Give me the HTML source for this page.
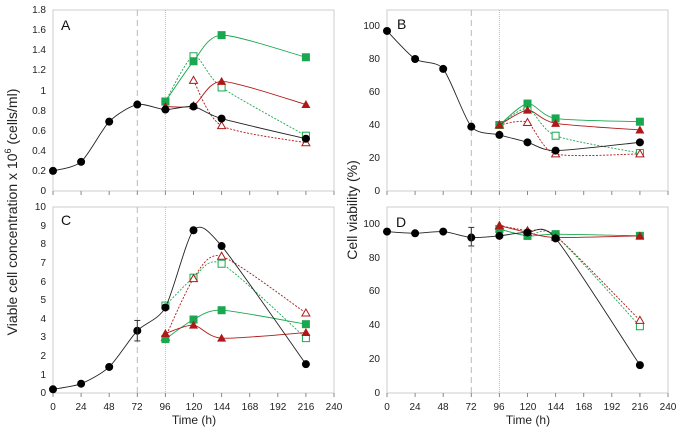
<!DOCTYPE html>
<html><head><style>body{margin:0;background:#fff}svg{display:block;font-family:"Liberation Sans",sans-serif}</style></head>
<body>
<svg id="s" width="683" height="434" viewBox="0 0 683 434">
<rect width="683" height="434" fill="#fff"/>
<g font-size="10" fill="#222" text-anchor="end">
<text x="46" y="194">0</text><text x="46" y="174">0.2</text><text x="46" y="154">0.4</text><text x="46" y="134">0.6</text><text x="46" y="114">0.8</text><text x="46" y="94">1</text><text x="46" y="73">1.2</text><text x="46" y="53">1.4</text><text x="46" y="33">1.6</text><text x="46" y="13">1.8</text>
<text x="46" y="396">0</text><text x="46" y="378">1</text><text x="46" y="359">2</text><text x="46" y="340">3</text><text x="46" y="322">4</text><text x="46" y="303">5</text><text x="46" y="285">6</text><text x="46" y="266">7</text><text x="46" y="247">8</text><text x="46" y="229">9</text><text x="46" y="210">10</text>
<text x="380" y="194">0</text><text x="380" y="161">20</text><text x="380" y="128">40</text><text x="380" y="95">60</text><text x="380" y="62">80</text><text x="380" y="29">100</text>
<text x="380" y="396">0</text><text x="380" y="362">20</text><text x="380" y="328">40</text><text x="380" y="294">60</text><text x="380" y="261">80</text><text x="380" y="227">100</text>
</g>
<g font-size="10" fill="#222" text-anchor="middle">
<text x="53" y="410">0</text><text x="81" y="410">24</text><text x="109" y="410">48</text><text x="137" y="410">72</text><text x="165" y="410">96</text><text x="194" y="410">120</text><text x="222" y="410">144</text><text x="250" y="410">168</text><text x="278" y="410">192</text><text x="306" y="410">216</text><text x="334" y="410">240</text>
<text x="387" y="410">0</text><text x="415" y="410">24</text><text x="443" y="410">48</text><text x="471" y="410">72</text><text x="499" y="410">96</text><text x="528" y="410">120</text><text x="556" y="410">144</text><text x="584" y="410">168</text><text x="612" y="410">192</text><text x="640" y="410">216</text><text x="668" y="410">240</text>
</g>
<g font-size="12" fill="#222" text-anchor="middle">
<text x="194" y="424">Time (h)</text><text x="528" y="424">Time (h)</text>
</g>
<g font-size="14" fill="#222" text-anchor="middle">
<text transform="translate(17,212) rotate(-90)">Viable cell concentration x 10<tspan font-size="9" dy="-6">6</tspan><tspan dy="6"> (cells/ml)</tspan></text>
<text transform="translate(357,210) rotate(-90)">Cell viability (%)</text>
</g>
<g font-size="14" fill="#111">
<text x="61" y="30">A</text><text x="397" y="29">B</text><text x="61" y="225">C</text><text x="396" y="227">D</text>
</g>
</svg>
<script>
const s=document.getElementById('s'),NS='http://www.w3.org/2000/svg';
function el(t,a){const e=document.createElementNS(NS,t);for(const k in a)e.setAttribute(k,a[k]);s.appendChild(e);return e}
const P={A:{x0:53,x1:334,top:10,b:191,vmax:1.8},C:{x0:53,x1:334,top:207,b:393,vmax:10},B:{x0:387,x1:668,top:10,b:191,vmax:100*181/165},D:{x0:387,x1:668,top:207,b:393,vmax:100*186/169}};
function X(p,t){return p.x0+(p.x1-p.x0)*t/240}
function Y(p,v){return p.b-(p.b-p.top)*v/p.vmax}
for(const k in P){const p=P[k];
el('rect',{x:p.x0,y:p.top,width:p.x1-p.x0,height:p.b-p.top,fill:'none',stroke:'#ccc'});
for(let t=0;t<=240;t+=24)el('line',{x1:X(p,t),x2:X(p,t),y1:p.b,y2:p.b+4,stroke:'#888'});
el('line',{x1:X(p,72),x2:X(p,72),y1:p.top,y2:p.b,stroke:'#bbb','stroke-dasharray':'6,4'});
el('line',{x1:X(p,96),x2:X(p,96),y1:p.top,y2:p.b,stroke:'#bbb','stroke-dasharray':'1,1'});}
function path(p,d,c,dash){const pts=d.map(q=>[X(p,q[0]),Y(p,q[1])]);let s='M'+pts[0];const T=8;
for(let i=0;i<pts.length-1;i++){const a=pts[i-1]||pts[i],b=pts[i],c2=pts[i+1],e=pts[i+2]||c2;
s+=`C${b[0]+(c2[0]-a[0])/T},${b[1]+(c2[1]-a[1])/T} ${c2[0]-(e[0]-b[0])/T},${c2[1]-(e[1]-b[1])/T} ${c2[0]},${c2[1]}`}
el('path',{d:s,fill:'none',stroke:c,'stroke-width':0.9,'stroke-dasharray':dash?'2,1.5':''});return pts}
function mk(pts,type){const G='#1aa74f',R='#b01818';
pts.forEach(([x,y])=>{if(type=='k')el('circle',{cx:x,cy:y,r:4,fill:'#000'});
else if(type=='gs')el('rect',{x:x-4,y:y-4,width:8,height:8,fill:G});
else if(type=='go')el('rect',{x:x-3.5,y:y-3.5,width:7,height:7,fill:'#fff',stroke:G});
else if(type=='rt')el('polygon',{points:`${x},${y-4.5} ${x+4.5},${y+3.5} ${x-4.5},${y+3.5}`,fill:R});
else el('polygon',{points:`${x},${y-4} ${x+4},${y+3} ${x-4},${y+3}`,fill:'#fff',stroke:R});})}
const G='#1aa74f',R='#b01818';
function series(k,d){const p=P[k];
mk(path(p,d.go,G,1),'go');mk(path(p,d.ro,R,1),'ro');mk(path(p,d.gs,G),'gs');mk(path(p,d.rt,R),'rt');mk(path(p,d.k,'#222'),'k');}
series('A',{k:[[0,.2],[24,.29],[48,.69],[72,.86],[96,.81],[120,.84],[144,.72],[216,.52]],
gs:[[96,.89],[120,1.29],[144,1.55],[216,1.33]],go:[[96,.89],[120,1.34],[144,1.03],[216,.55]],
rt:[[96,.84],[120,.85],[144,1.09],[216,.86]],ro:[[120,1.10],[144,.65],[216,.48]]});
series('C',{k:[[0,.2],[24,.5],[48,1.4],[72,3.35],[96,4.6],[120,8.75],[144,7.9],[216,1.55]],
go:[[96,4.7],[120,6.2],[144,6.95],[216,2.95]],ro:[[96,3.0],[120,6.15],[144,7.35],[216,4.3]],
gs:[[96,2.9],[120,3.95],[144,4.45],[216,3.7]],rt:[[96,3.2],[120,3.65],[144,2.95],[216,3.25]]});
series('B',{k:[[0,97],[24,80],[48,74],[72,39],[96,34],[120,29.5],[144,24.5],[216,29.5]],
gs:[[96,40],[120,53],[144,44],[216,42]],rt:[[96,40],[120,49],[144,41],[216,37]],
go:[[96,40],[120,50],[144,33.5],[216,23]],ro:[[96,40],[120,41.5],[144,22.5],[216,22.5]]});
series('D',{k:[[0,95.5],[24,94.5],[48,95.5],[72,92],[96,93],[120,95],[144,91.5],[216,16.5]],
gs:[[96,97],[120,93],[144,94],[216,93]],rt:[[96,99],[120,95],[144,92],[216,93]],
go:[[96,97],[120,93],[144,93],[216,39.5]],ro:[[96,99],[120,96],[144,93],[216,43]]});
function err(k,t,lo,hi){const p=P[k],x=X(p,t);el('line',{x1:x,x2:x,y1:Y(p,lo),y2:Y(p,hi),stroke:'#333'});
[lo,hi].forEach(v=>el('line',{x1:x-3,x2:x+3,y1:Y(p,v),y2:Y(p,v),stroke:'#333'}));}
err('C',72,2.8,3.9);err('D',72,87,98);
</script>
</body></html>
